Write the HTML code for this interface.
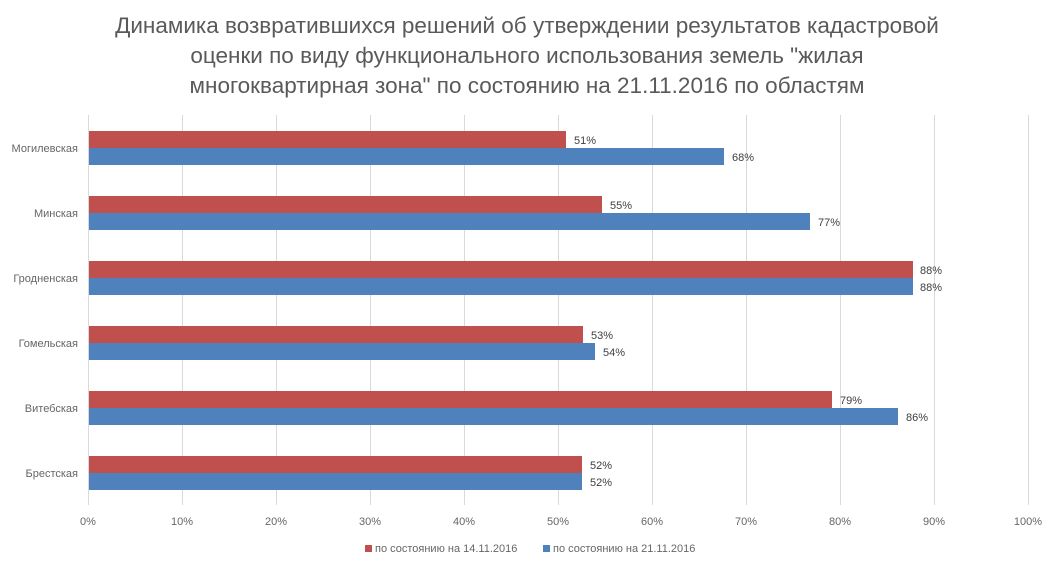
<!DOCTYPE html>
<html><head><meta charset="utf-8"><style>
body{margin:0;background:#fff;width:1052px;height:568px;overflow:hidden}
svg text{font-family:"Liberation Sans","DejaVu Sans",sans-serif}
</style></head><body>
<svg width="1052" height="568" xmlns="http://www.w3.org/2000/svg">
<g fill="#595959" font-size="22.5" text-anchor="middle">
<text x="527" y="33">Динамика возвратившихся решений об утверждении результатов кадастровой</text>
<text x="527" y="63">оценки по виду функционального использования земель "жилая</text>
<text x="527" y="93">многоквартирная зона" по состоянию на 21.11.2016 по областям</text>
</g>
<g stroke="#d9d9d9" stroke-width="1">
<line x1="88.5" y1="115" x2="88.5" y2="505"/><line x1="182.5" y1="115" x2="182.5" y2="505"/>
<line x1="276.5" y1="115" x2="276.5" y2="505"/><line x1="370.5" y1="115" x2="370.5" y2="505"/>
<line x1="464.5" y1="115" x2="464.5" y2="505"/><line x1="558.5" y1="115" x2="558.5" y2="505"/>
<line x1="652.5" y1="115" x2="652.5" y2="505"/><line x1="746.5" y1="115" x2="746.5" y2="505"/>
<line x1="840.5" y1="115" x2="840.5" y2="505"/><line x1="934.5" y1="115" x2="934.5" y2="505"/>
<line x1="1028.5" y1="115" x2="1028.5" y2="505"/>
</g>
<g font-size="11" fill="#666" text-anchor="middle">
<text x="88" y="525">0%</text><text x="182" y="525">10%</text><text x="276" y="525">20%</text><text x="370" y="525">30%</text><text x="464" y="525">40%</text><text x="558" y="525">50%</text><text x="652" y="525">60%</text><text x="746" y="525">70%</text><text x="840" y="525">80%</text><text x="934" y="525">90%</text><text x="1028" y="525">100%</text>
</g>
<g font-size="11" fill="#666" text-anchor="end">
<text x="78" y="152">Могилевская</text><text x="78" y="217">Минская</text><text x="78" y="282">Гродненская</text><text x="78" y="347">Гомельская</text><text x="78" y="412">Витебская</text><text x="78" y="477">Брестская</text>
</g>
<g>
<rect x="89" y="131" width="477" height="17" fill="#c0504d"/><rect x="89" y="148" width="635" height="17" fill="#4f81bd"/>
<rect x="89" y="196" width="513" height="17" fill="#c0504d"/><rect x="89" y="213" width="721" height="17" fill="#4f81bd"/>
<rect x="89" y="261" width="824" height="17" fill="#c0504d"/><rect x="89" y="278" width="824" height="17" fill="#4f81bd"/>
<rect x="89" y="326" width="494" height="17" fill="#c0504d"/><rect x="89" y="343" width="506" height="17" fill="#4f81bd"/>
<rect x="89" y="391" width="743" height="17" fill="#c0504d"/><rect x="89" y="408" width="809" height="17" fill="#4f81bd"/>
<rect x="89" y="456" width="493" height="17" fill="#c0504d"/><rect x="89" y="473" width="493" height="17" fill="#4f81bd"/>
</g>
<g font-size="11" fill="#404040">
<text x="574" y="144">51%</text><text x="732" y="161">68%</text>
<text x="610" y="209">55%</text><text x="818" y="226">77%</text>
<text x="920" y="274">88%</text><text x="920" y="291">88%</text>
<text x="591" y="339">53%</text><text x="603" y="356">54%</text>
<text x="840" y="404">79%</text><text x="906" y="421">86%</text>
<text x="590" y="469">52%</text><text x="590" y="486">52%</text>
</g>
<g font-size="11" fill="#666">
<rect x="365" y="545" width="7" height="7" fill="#c0504d"/><text x="375" y="552">по состоянию на 14.11.2016</text>
<rect x="543" y="545" width="7" height="7" fill="#4f81bd"/><text x="553" y="552">по состоянию на 21.11.2016</text>
</g>
</svg>
</body></html>
